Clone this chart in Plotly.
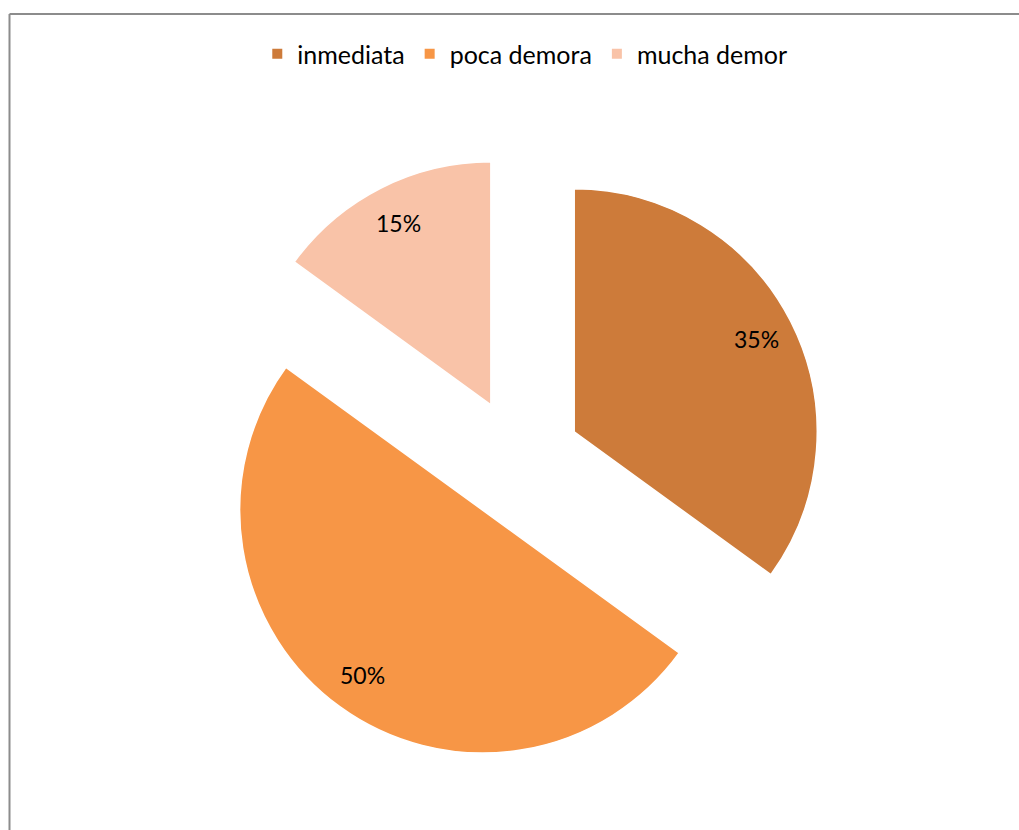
import math
import plotly.graph_objects as go

W, H = 1019, 830

labels = ["inmediata", "poca demora", "mucha demor"]
values = [35, 50, 15]
colors = ["#CD7B3A", "#F79646", "#F9C3A8"]
pulls = [0.255, 0.255, 0.255]

# pie placement (pixels), converted to paper fractions
cx, cy, outer = 519, 460, 305
radius = outer / (1 + max(pulls))
label_depth = 0.84  # label distance from a slice's tip, as a share of the radius

fig = go.Figure(
    go.Pie(
        labels=labels,
        values=values,
        sort=False,
        direction="clockwise",
        rotation=0,
        pull=pulls,
        marker=dict(colors=colors, line=dict(color="white", width=1.5)),
        textinfo="none",
        domain=dict(
            x=[(cx - outer) / W, (cx + outer) / W],
            y=[1 - (cy + outer) / H, 1 - (cy - outer) / H],
        ),
        hoverinfo="label+percent",
    )
)

# percentage labels placed along each slice's middle angle
total = sum(values)
cum = 0
annotations = []
for v, p in zip(values, pulls):
    theta = 2 * math.pi * (cum + v / 2) / total
    cum += v
    d = (p + label_depth) * radius
    px = cx + d * math.sin(theta)
    py = cy - d * math.cos(theta)
    annotations.append(
        dict(
            x=px / W, y=1 - py / H, xref="paper", yref="paper",
            text=f"{round(100 * v / total)}%", showarrow=False,
            font=dict(family="Lato, Open Sans, sans-serif", size=23, color="black"),
            xanchor="center", yanchor="middle",
        )
    )

fig.update_layout(
    width=W,
    height=H,
    margin=dict(l=0, r=0, t=0, b=0),
    paper_bgcolor="white",
    showlegend=True,
    legend=dict(
        orientation="h",
        x=0.515,
        xanchor="center",
        y=1 - 54 / H,
        yanchor="middle",
        font=dict(family="Lato, Open Sans, sans-serif", size=25, color="black"),
        itemsizing="constant",
        traceorder="normal",
    ),
    annotations=annotations,
    shapes=[
        dict(type="line", xref="paper", yref="paper",
             x0=9.5 / W, x1=1.0, y0=1 - 14 / H, y1=1 - 14 / H,
             line=dict(color="#8C8C8C", width=2)),
        dict(type="line", xref="paper", yref="paper",
             x0=9.5 / W, x1=9.5 / W, y0=1 - 14 / H, y1=0,
             line=dict(color="#8C8C8C", width=2)),
    ],
)

fig.write_html("out.html")
